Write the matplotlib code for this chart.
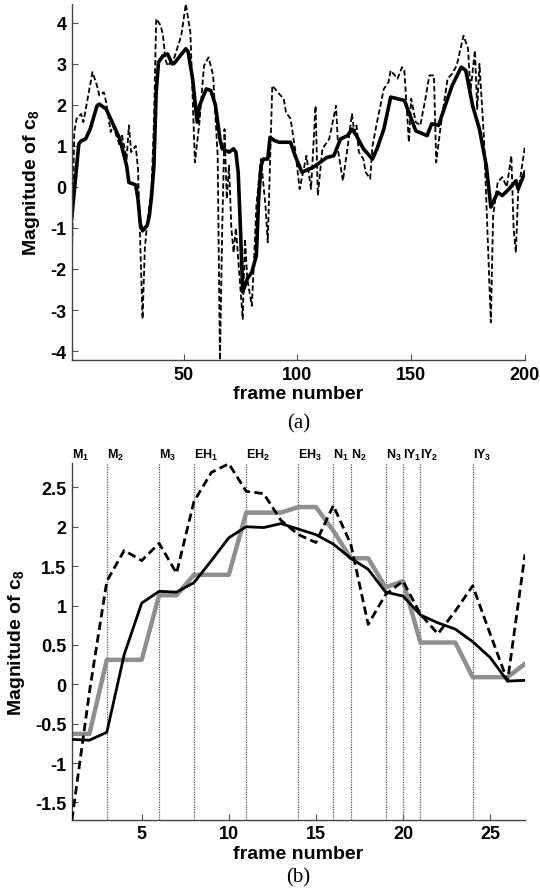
import numpy as np
import matplotlib
matplotlib.use("Agg")
import matplotlib.pyplot as plt
from matplotlib.ticker import FuncFormatter

plt.rcParams['font.family'] = ['Liberation Sans', 'DejaVu Sans']
plt.rcParams['font.weight'] = 'bold'
plt.rcParams['axes.unicode_minus'] = False
plt.rcParams['mathtext.fontset'] = 'custom'
plt.rcParams['mathtext.rm'] = 'Liberation Sans:bold'
plt.rcParams['mathtext.it'] = 'Liberation Sans:bold'
plt.rcParams['mathtext.bf'] = 'Liberation Sans:bold'

# (a) whole utterance: smoothed (solid) and raw (dashed) c8
frames_a_solid = [1, 4, 5, 7, 9, 12, 13, 16, 19, 22, 25, 26, 29, 30, 31, 32, 34, 35, 36, 37,
                  38, 39, 41, 43, 45, 46, 48, 51, 52, 54, 56, 57, 60, 62, 64, 66, 67, 70, 72, 73,
                  74, 75, 76, 78, 80, 82, 83, 84, 85, 87, 88, 90, 92, 97, 99, 102, 107, 110, 113, 116,
                  119, 122, 124, 126, 129, 133, 135, 138, 141, 144, 147, 149, 152, 157, 159, 162, 166, 168, 172, 174,
                  177, 180, 183, 185, 188, 190, 193, 196, 197, 200]
c8_a_solid = [-0.69, 1.05, 1.12, 1.17, 1.41, 1.98, 2.02, 1.90, 1.54, 1.17, 0.52, 0.11, 0.05, -0.3, -0.9, -1.07, -0.94, -0.7, -0.2, 0.52,
              2.31, 3.04, 3.2, 3.24, 3.0, 3.02, 3.16, 3.37, 3.3, 2.63, 1.58, 1.98, 2.39, 2.35, 2.0, 1.17, 0.93, 0.85, 0.93, 0.85,
              0.36, -1.0, -2.56, -2.24, -2.08, -1.67, -0.3, 0.5, 0.68, 0.68, 1.21, 1.13, 1.09, 1.09, 0.76, 0.36, 0.48, 0.6, 0.72, 0.76,
              1.17, 1.25, 1.41, 1.25, 0.93, 0.68, 0.93, 1.41, 2.19, 2.15, 2.11, 1.82, 1.37, 1.25, 1.54, 1.5, 2.15, 2.47, 2.92, 2.84,
              1.98, 1.41, 0.52, -0.49, -0.13, -0.21, -0.05, 0.15, -0.05, 0.36]

frames_a_dash = [1, 2, 3, 5, 6, 10, 12, 13, 15, 16, 18, 19, 20, 22, 23, 25, 26, 27, 29, 30,
                 32, 33, 34, 35, 36, 37, 38, 40, 41, 42, 43, 46, 49, 51, 53, 55, 57, 59, 61, 63,
                 65, 66, 67, 68, 69, 70, 71, 72, 73, 76, 77, 78, 80, 81, 82, 84, 86, 87, 88, 89,
                 92, 94, 95, 97, 99, 101, 104, 106, 108, 109, 111, 114, 117, 118, 120, 122, 124, 125, 126, 127,
                 129, 130, 132, 133, 135, 138, 140, 141, 144, 146, 147, 149, 150, 152, 154, 156, 158, 160, 161, 163,
                 166, 168, 170, 173, 175, 176, 178, 179, 180, 182, 185, 186, 188, 190, 192, 194, 195, 196, 197, 200]
c8_a_dash = [-1.6, 1.34, 1.66, 1.78, 1.58, 2.8, 2.47, 2.23, 2.31, 2.07, 1.34, 1.5, 1.34, 1.0, 1.25, 0.68, 1.5, 0.85, 1.0, 0.44,
             -3.22, -1.5, -0.9, -0.46, 0.03, 1.58, 4.1, 3.93, 3.69, 3.12, 2.95, 3.16, 3.69, 4.46, 3.77, 0.6, 1.58, 2.96, 3.16, 2.72,
             0.76, -4.22, -1.0, 1.41, -0.29, 0.52, -1.0, -1.6, -1.0, -3.22, -1.27, -2.24, -2.9, -1.75, -0.46, 0.68, -0.46, -1.35, 0.6, 2.47,
             2.27, 2.15, 1.82, 1.66, 0.93, -0.05, 0.76, -0.05, 1.98, -0.21, 0.93, 1.17, 1.98, 0.85, 0.15, 0.93, 1.78, 1.34, 1.5, 0.85,
             0.68, 0.36, 0.2, 1.0, 1.58, 2.39, 2.55, 2.84, 2.64, 2.92, 2.84, 1.09, 2.15, 1.58, 1.5, 2.07, 2.72, 2.72, 0.6, 1.5,
             2.64, 2.76, 2.96, 3.69, 3.37, 2.31, 3.33, 1.9, 3.0, 1.17, -3.3, -0.7, 0.11, 0.24, 0.0, 0.76, -1.0, -1.6, -0.13, 1.0]

# (b) one word, 27 frames
frames_b = list(range(1, 28))
c8_b_dash = [-1.72, -0.1, 1.31, 1.70, 1.57, 1.79, 1.41, 2.32, 2.69, 2.80, 2.45, 2.42, 2.08, 1.90, 1.80, 2.27, 1.78, 0.76,
             1.14, 1.31, 0.89, 0.64, 0.93, 1.25, 0.64, 0.04, 1.65]
c8_b_black = [-0.70, -0.71, -0.61, 0.38, 1.03, 1.18, 1.17, 1.29, 1.57, 1.86, 2.00, 1.99, 2.04, 1.97, 1.90, 1.78, 1.60, 1.46,
              1.17, 1.12, 0.88, 0.78, 0.70, 0.54, 0.34, 0.04, 0.05]
c8_b_gray = [-0.63, -0.63, 0.31, 0.31, 0.31, 1.13, 1.13, 1.39, 1.39, 1.39, 2.18, 2.18, 2.18, 2.25, 2.25, 1.95, 1.60, 1.60,
             1.23, 1.31, 0.53, 0.53, 0.53, 0.09, 0.09, 0.09, 0.26]

seg_frames = [1, 3, 6, 8, 11, 14, 16, 17, 19, 20, 21, 24]
seg_labels = ['M_1', 'M_2', 'M_3', 'EH_1', 'EH_2', 'EH_3', 'N_1', 'N_2', 'N_3', 'IY_1', 'IY_2', 'IY_3']

fmt = FuncFormatter(lambda v, p: '%g' % v)


def style_axes(ax):
    for s in ['top', 'right']:
        ax.spines[s].set_visible(False)
    for s in ['left', 'bottom']:
        ax.spines[s].set_color('#444444')
        ax.spines[s].set_linewidth(1.0)
    ax.tick_params(direction='in', length=4, width=0.8, color='#555555',
                   labelsize=13)
    ax.tick_params(axis='x', pad=4)
    ax.tick_params(axis='y', pad=4)
    ax.set_xlabel('frame number', fontsize=14, fontweight='bold', labelpad=2)
    ax.set_ylabel(r'Magnitude of c$_8$', fontsize=14, fontweight='bold', labelpad=6)


fig = plt.figure(figsize=(5.4, 8.95), dpi=100)

ax1 = fig.add_axes([0.1333, 0.5966, 0.8389, 0.3978])
ax1.plot(frames_a_solid, c8_a_solid, color='black', lw=2.6)
ax1.plot(frames_a_dash, c8_a_dash, color='black', lw=1.3, dashes=(3.0, 1.5))
ax1.set_xlim(1, 200)
ax1.set_ylim(-4.22, 4.46)
ax1.set_xticks([50, 100, 150, 200])
ax1.set_yticks([-4, -3, -2, -1, 0, 1, 2, 3, 4])
ax1.yaxis.set_major_formatter(fmt)
style_axes(ax1)
fig.text(0.5528, 0.526, '(a)', family='Liberation Serif', fontweight='normal', fontsize=15,
         ha='center', va='center')

ax2 = fig.add_axes([0.1333, 0.0830, 0.8389, 0.3986])
for f in seg_frames[1:]:
    ax2.axvline(f, color='#555555', lw=0.9, ls=(0, (1, 1)), zorder=1)
ax2.plot(frames_b, c8_b_gray, color='#8f8f8f', lw=3.2, zorder=2)
ax2.plot(frames_b, c8_b_black, color='black', lw=2.0, zorder=3)
ax2.plot(frames_b, c8_b_dash, color='black', lw=2.0, dashes=(3.0, 1.6), zorder=4)
ax2.set_xlim(1, 27)
ax2.set_ylim(-1.72, 2.81)
ax2.set_xticks([5, 10, 15, 20, 25])
ax2.set_yticks([-1.5, -1, -0.5, 0, 0.5, 1, 1.5, 2, 2.5])
ax2.yaxis.set_major_formatter(fmt)
style_axes(ax2)
for f, lab in zip(seg_frames, seg_labels):
    base, sub = lab.split('_')
    ax2.text(f, 1.003, r'$\mathrm{%s}_{%s}$' % (base, sub), transform=ax2.get_xaxis_transform(),
             ha='left', va='bottom', fontsize=9)
fig.text(0.5528, 0.019, '(b)', family='Liberation Serif', fontweight='normal', fontsize=15,
         ha='center', va='center')

fig.savefig('out.png', dpi=100)
